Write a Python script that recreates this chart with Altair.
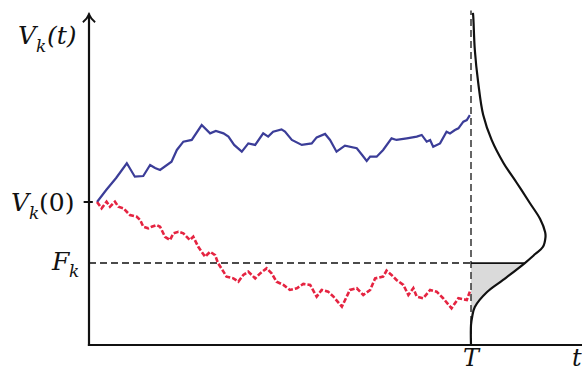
import altair as alt
import pandas as pd

# ---- data (time t in units of T, value V with V_k(0)=100) ----
T = 1.0
V0 = 100.0
F = 57.3
V_TOP = 231.0
T_END = 1.29

blue_t = [0.021, 0.045, 0.071, 0.099, 0.120, 0.142, 0.160, 0.173, 0.186, 0.216, 0.230, 0.247,
          0.269, 0.295, 0.317, 0.332, 0.352, 0.365, 0.380, 0.400, 0.417, 0.435, 0.456, 0.469,
          0.482, 0.504, 0.513, 0.531, 0.557, 0.583, 0.596, 0.618, 0.631, 0.648, 0.670, 0.701,
          0.715, 0.727, 0.736, 0.753, 0.770, 0.792, 0.805, 0.832, 0.858, 0.871, 0.884, 0.893,
          0.901, 0.919, 0.936, 0.945, 0.958, 0.967, 0.980, 0.989, 0.997]
blue_v = [100.0, 108.4, 116.8, 127.1, 117.7, 118.2, 125.9, 123.8, 122.4, 128.2, 136.4, 142.2,
          143.4, 153.8, 148.0, 149.7, 148.0, 145.7, 139.9, 135.2, 141.0, 139.9, 148.0, 145.7,
          149.2, 150.8, 149.2, 143.4, 139.9, 141.0, 145.2, 147.6, 143.4, 135.2, 139.4, 137.6,
          132.9, 128.7, 131.7, 131.7, 136.4, 144.5, 143.4, 144.5, 145.7, 146.9, 142.2, 143.4,
          138.7, 141.0, 149.2, 148.0, 150.3, 151.5, 156.2, 157.3, 160.8]

red_t = [0.021, 0.033, 0.046, 0.055, 0.068, 0.077, 0.090, 0.107, 0.125, 0.134, 0.142, 0.155,
         0.164, 0.177, 0.186, 0.199, 0.212, 0.221, 0.234, 0.247, 0.264, 0.273, 0.286, 0.304,
         0.317, 0.330, 0.338, 0.352, 0.360, 0.378, 0.391, 0.404, 0.417, 0.435, 0.448, 0.465,
         0.478, 0.491, 0.509, 0.526, 0.544, 0.561, 0.579, 0.596, 0.609, 0.626, 0.640, 0.662,
         0.683, 0.701, 0.718, 0.736, 0.749, 0.770, 0.779, 0.792, 0.805, 0.823, 0.836, 0.849,
         0.858, 0.875, 0.893, 0.910, 0.927, 0.949, 0.967, 0.989, 0.997]
red_v = [100.0, 95.6, 100.2, 96.7, 100.2, 96.7, 95.6, 90.9, 89.7, 87.4, 82.7, 81.6,
         82.7, 83.9, 82.7, 75.7, 73.4, 78.1, 79.2, 78.1, 73.4, 75.7, 68.7, 61.7,
         65.2, 62.9, 57.1, 51.3, 47.8, 46.6, 44.3, 49.0, 51.3, 46.6, 50.1, 53.6,
         50.1, 44.3, 42.0, 38.5, 39.7, 42.7, 42.0, 33.8, 38.5, 37.3, 33.8, 26.8,
         38.5, 39.7, 35.0, 38.5, 46.6, 47.8, 52.0, 49.0, 45.5, 42.0, 35.0, 39.7,
         33.8, 32.7, 38.5, 37.3, 32.7, 25.7, 32.7, 31.5, 37.3]

# density of V_k(T), drawn sideways from the line t = T
dens_v = [232.2, 229.4, 206.3, 183.2, 160.8, 143.4, 127.3, 113.3, 99.3, 88.1, 79.0, 75.5,
          68.5, 63.6, 57.3, 45.5, 37.1, 26.6, 19.6, 14.0, 0.0]
dens_d = [0.005, 0.006, 0.010, 0.019, 0.032, 0.054, 0.085, 0.120, 0.154, 0.181, 0.194, 0.195,
          0.188, 0.168, 0.141, 0.084, 0.042, 0.010, 0.003, 0.0, 0.0]
D_AT_F = 0.141

# ---- scales ----
xs = alt.Scale(domain=[0, 1], range=[89, 471], nice=False, zero=False)
ys = alt.Scale(domain=[0, 100], range=[345, 202], nice=False, zero=False)
X = alt.X('t:Q', scale=xs, axis=None)
Y = alt.Y('V:Q', scale=ys, axis=None)

blue = pd.DataFrame({'t': blue_t, 'V': blue_v, 'i': range(len(blue_t))})
red = pd.DataFrame({'t': red_t, 'V': red_v, 'i': range(len(red_t))})
dens = pd.DataFrame({'t': [T + d for d in dens_d], 'V': dens_v, 'i': range(len(dens_v))})
shade = pd.DataFrame({'V': [v for v in dens_v if v <= F],
                      't': [T + d for v, d in zip(dens_v, dens_d) if v <= F],
                      't0': [T for v in dens_v if v <= F]})

ink = '#111111'
SERIF = "DejaVu Serif"

def rule(df, enc, **kw):
    return alt.Chart(df).mark_rule(**kw).encode(**enc)

y_axis = rule(pd.DataFrame({'t': [0], 'V': [0], 'V2': [V_TOP]}),
              dict(x=X, y=Y, y2='V2:Q'), color=ink, strokeWidth=2.2, strokeCap='square')
x_axis = rule(pd.DataFrame({'t': [0], 't2': [T_END], 'V': [0]}),
              dict(x=X, x2='t2:Q', y=Y), color=ink, strokeWidth=2.2, strokeCap='square')
v0_tick = rule(pd.DataFrame({'t': [-0.014], 't2': [0.01], 'V': [V0]}),
               dict(x=X, x2='t2:Q', y=Y), color=ink, strokeWidth=2)
arrow = alt.Chart(pd.DataFrame({'t': [0], 'V': [V_TOP]})).mark_point(
    shape='M -1 0.75 Q -0.35 0.25 0 -0.55 Q 0.35 0.25 1 0.75',
    size=150, filled=False, stroke=ink, strokeWidth=2, opacity=1, yOffset=3
).encode(x=X, y=Y)

t_line = rule(pd.DataFrame({'t': [T], 'V': [0], 'V2': [V_TOP + 3]}),
              dict(x=X, y=Y, y2='V2:Q'), color='#333333', strokeWidth=1.5, strokeDash=[7, 4])
f_line = rule(pd.DataFrame({'t': [0], 't2': [T], 'V': [F]}),
              dict(x=X, x2='t2:Q', y=Y), color=ink, strokeWidth=1.5, strokeDash=[7, 4])
f_solid = rule(pd.DataFrame({'t': [T], 't2': [T + D_AT_F], 'V': [F]}),
               dict(x=X, x2='t2:Q', y=Y), color=ink, strokeWidth=1.8)

shade_area = alt.Chart(shade).mark_area(
    orient='horizontal', color='#d6d6d6', opacity=0.9, interpolate='monotone'
).encode(x=X, x2='t0:Q', y=Y)

dens_line = alt.Chart(dens).mark_line(
    color=ink, strokeWidth=2.2, interpolate='catmull-rom'
).encode(x=X, y=Y, order='i:Q')

blue_line = alt.Chart(blue).mark_line(color='#3b3d98', strokeWidth=2.2).encode(x=X, y=Y, order='i:Q')
red_line = alt.Chart(red).mark_line(color='#e52441', strokeWidth=2.6, strokeDash=[5, 2]).encode(
    x=X, y=Y, order='i:Q')

def label(txt, t, v, dx, dy, size=25, style='italic'):
    return alt.Chart(pd.DataFrame({'t': [t], 'V': [v]})).mark_text(
        text=txt, align='left', baseline='alphabetic', dx=dx, dy=dy,
        font=SERIF, fontSize=size, fontStyle=style, color=ink
    ).encode(x=X, y=Y)

labels = [
    label('V', 0, V_TOP, -71, 29),
    label('k', 0, V_TOP, -53, 37, size=17),
    label('(t)', 0, V_TOP, -42, 29),
    label('V', 0, V0, -78, 9),
    label('k', 0, V0, -60, 17, size=17),
    label('(0)', 0, V0, -50, 9, style='normal'),
    label('F', 0, F, -37, 7),
    label('k', 0, F, -20, 14, size=17),
    label('T', T, 0, -8, 21, size=24),
    label('t', T, 0, 101, 21, size=24),
]

chart = alt.layer(
    shade_area, t_line, f_line, f_solid, blue_line, red_line, dens_line,
    y_axis, x_axis, v0_tick, arrow, *labels
).properties(
    width=582, height=372, autosize='none', padding=0
).configure_view(stroke=None)

chart.save('out.html', embed_options={'renderer': 'svg', 'actions': False})
